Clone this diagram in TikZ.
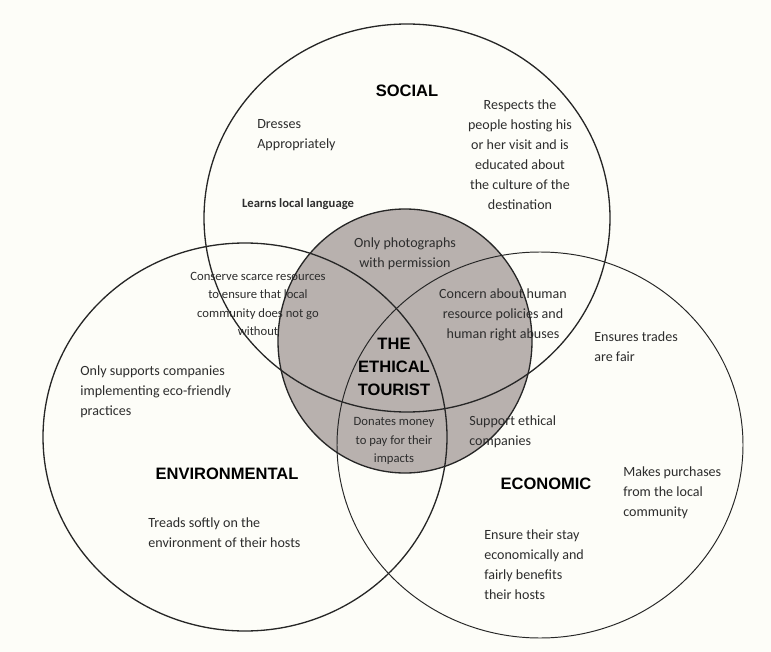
\documentclass[tikz,border=0pt]{standalone}
\usepackage{fontspec}
\setmainfont{Carlito}
\newfontfamily\headfont{Liberation Sans}
\usepackage{xcolor}

\definecolor{paper}{RGB}{253,253,248}
\definecolor{coregray}{RGB}{184,177,174}
\definecolor{inkgray}{RGB}{45,45,45}

\begin{document}
\begin{tikzpicture}[
  x=0.02cm, y=-0.02cm,
  ring/.style={draw=black!85, line width=0.75pt},
  heading/.style={
    font=\headfont\bfseries\fontsize{9.4}{13.1}\selectfont,
    align=center,
    inner sep=0pt
  },
  idea/.style={
    font=\fontsize{8}{11.4}\selectfont,
    text=inkgray,
    align=center,
    inner sep=0pt
  },
  ideasmall/.style={
    font=\fontsize{7.2}{10.4}\selectfont,
    text=inkgray,
    align=center,
    inner sep=0pt
  }
]
\fill[paper] (0,0) rectangle (771,652);
\useasboundingbox (0,0) rectangle (771,652);
% shaded core
\fill[coregray] (405,341) ellipse [x radius=127, y radius=132];
% social
\node[heading] (soc) at (407,91) {SOCIAL};
\node[idea, anchor=west, align=left] (dress) at (257,135) {Dresses\\Appropriately};
\node[ideasmall, font=\bfseries\fontsize{7.2}{10.4}\selectfont] (lang) at (298,204) {Learns local language};
\node[idea] (respect) at (520,155) {Respects the\\people hosting his\\or her visit and is\\educated about\\the culture of the\\destination};
% overlaps
\node[idea] (photo) at (405,254) {Only photographs\\with permission};
\node[ideasmall] (conserve) at (258,304) {Conserve scarce resources\\to ensure that local\\community does not go\\without};
\node[idea] (concern) at (503,315) {Concern about human\\resource policies and\\human right abuses};
\node[heading] (core) at (394,367) {THE\\ETHICAL\\TOURIST};
\node[ideasmall] (donate) at (394,441) {Donates money\\to pay for their\\impacts};
\node[idea, anchor=west, align=left] (support) at (469,432) {Support ethical\\companies};
% environmental
\node[idea, anchor=west, align=left] (eco) at (80,392) {Only supports companies\\implementing eco-friendly\\practices};
\node[heading] (env) at (227,474) {ENVIRONMENTAL};
\node[idea, anchor=west, align=left] (tread) at (148,533) {Treads softly on the\\environment of their hosts};
% economic
\node[idea, anchor=west, align=left] (trade) at (594,347) {Ensures trades\\are fair};
\node[heading] (econ) at (546,484) {ECONOMIC};
\node[idea, anchor=west, align=left] (buy) at (623,493) {Makes purchases\\from the local\\community};
\node[idea, anchor=west, align=left] (stay) at (484,565) {Ensure their stay\\economically and\\fairly benefits\\their hosts};
% outlines on top
\draw[ring] (405,341) ellipse [x radius=127, y radius=132];
\draw[ring] (407,218) ellipse [x radius=203, y radius=194];
\draw[ring] (245,437) ellipse [x radius=202, y radius=194];
\draw[ring, line width=0.55pt] (540,445) ellipse [x radius=203, y radius=193];
\end{tikzpicture}
\end{document}
